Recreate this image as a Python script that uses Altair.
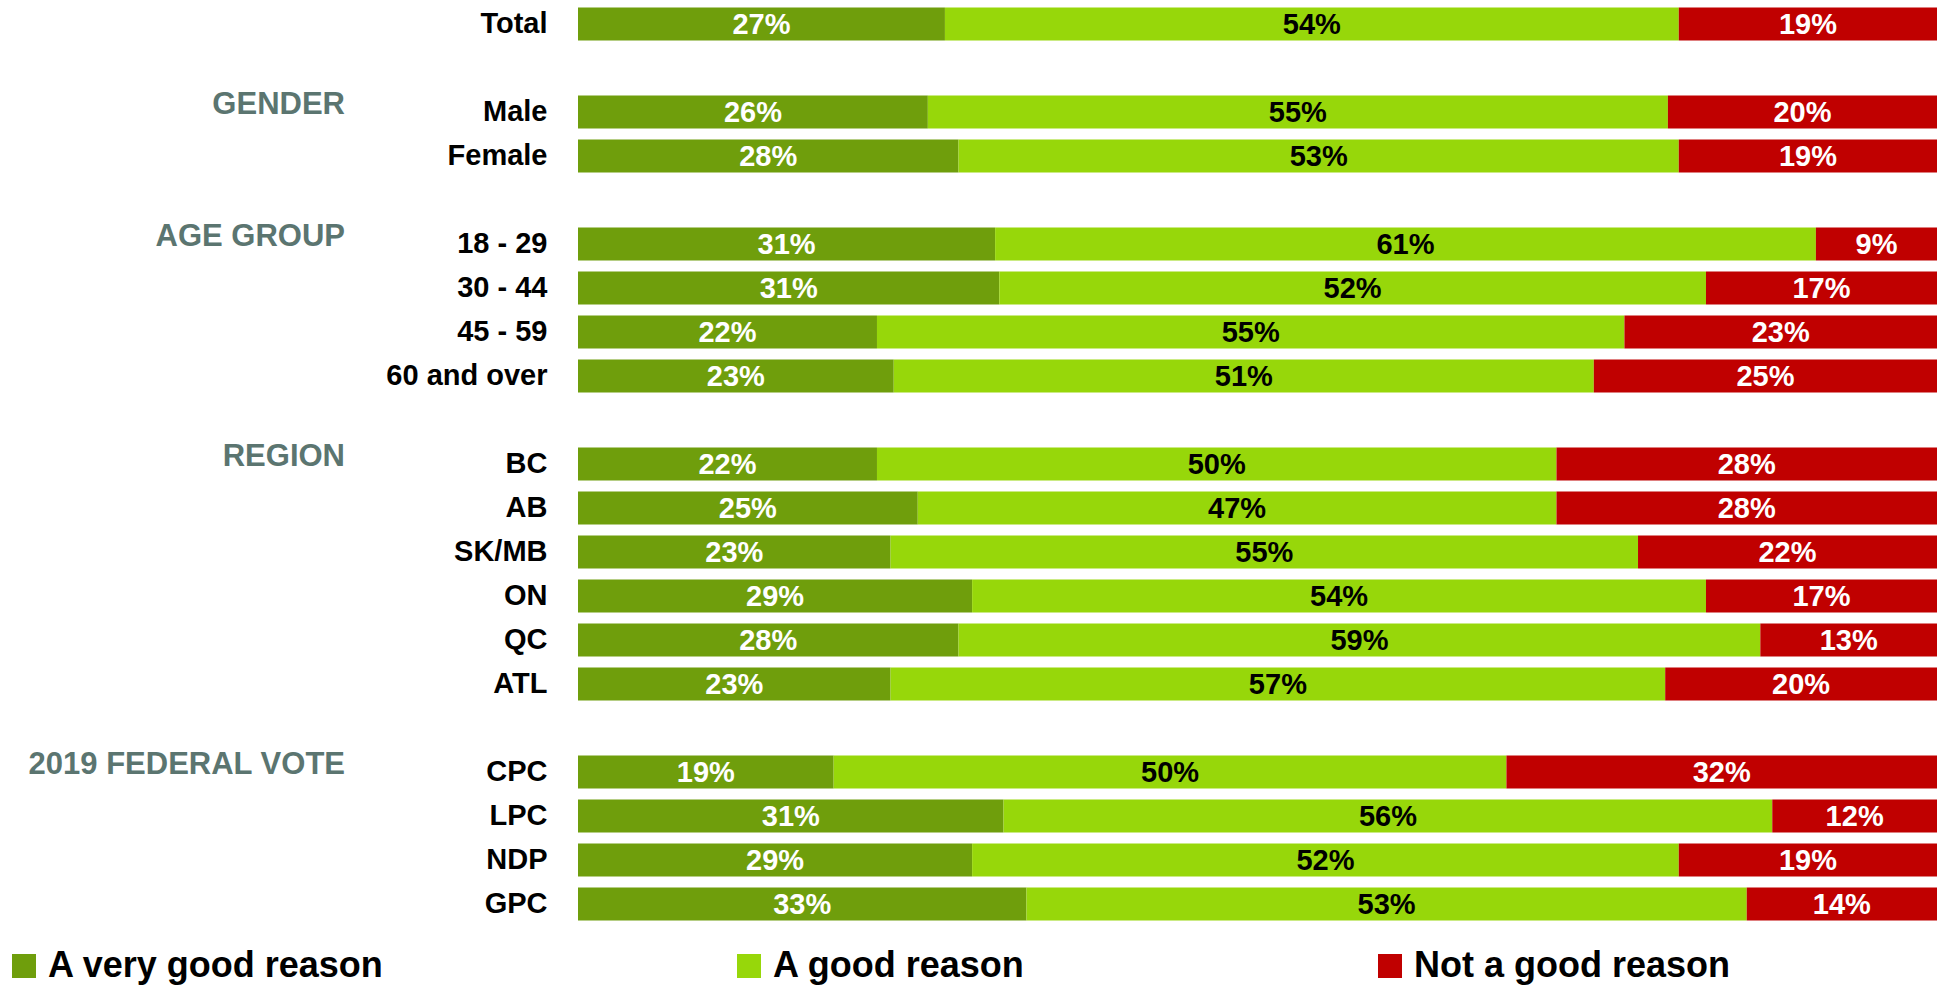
import altair as alt
import pandas as pd

rows = ["Total", "Male", "Female", "18 - 29", "30 - 44", "45 - 59", "60 and over",
        "BC", "AB", "SK/MB", "ON", "QC", "ATL", "CPC", "LPC", "NDP", "GPC"]
very_good = [27, 26, 28, 31, 31, 22, 23, 22, 25, 23, 29, 28, 23, 19, 31, 29, 33]
good = [54, 55, 53, 61, 52, 55, 51, 50, 47, 55, 54, 59, 57, 50, 56, 52, 53]
not_good = [19, 20, 19, 9, 17, 23, 25, 28, 28, 22, 17, 13, 20, 32, 12, 19, 14]

series = ["A very good reason", "A good reason", "Not a good reason"]
colors = ["#6f9e0c", "#97d70a", "#c00000"]

groups = ["GENDER", "AGE GROUP", "REGION", "2019 FEDERAL VOTE"]
group_first_row = ["Male", "18 - 29", "BC", "CPC"]

y_order = ["Total", "gap1", "Male", "Female", "gap2", "18 - 29", "30 - 44", "45 - 59",
           "60 and over", "gap3", "BC", "AB", "SK/MB", "ON", "QC", "ATL", "gap4",
           "CPC", "LPC", "NDP", "GPC"]

FONT = "Liberation Sans"

records = []
for i, r in enumerate(rows):
    for k, vals in enumerate([very_good, good, not_good]):
        records.append({"row": r, "series": series[k], "order": k, "value": vals[i]})
df = pd.DataFrame(records)
hdf = pd.DataFrame({"heading": groups, "row": group_first_row})

yscale = alt.Scale(domain=y_order, paddingInner=0.25, paddingOuter=0.125)
yaxis = alt.Axis(
    title=None, ticks=False, domain=False, labelPadding=31,
    labelFont=FONT, labelFontSize=29, labelFontWeight="bold", labelColor="black",
    labelExpr="indexof(datum.value, 'gap') == 0 ? '' : datum.value",
)
xscale = alt.Scale(domain=[0, 1], nice=False, zero=True)

base = alt.Chart(df)

bars = base.mark_bar(strokeWidth=0).encode(
    y=alt.Y("row:N", scale=yscale, axis=yaxis, sort=y_order),
    x=alt.X("value:Q", stack="normalize", scale=xscale, axis=None),
    order=alt.Order("order:Q"),
    color=alt.Color(
        "series:N",
        scale=alt.Scale(domain=series, range=colors),
        legend=alt.Legend(
            title=None, orient="none", direction="horizontal",
            legendX=-572, legendY=946, padding=0,
            symbolType="square", symbolSize=576, symbolStrokeWidth=0, symbolOpacity=1,
            labelFont=FONT, labelFontSize=36, labelFontWeight="bold", labelColor="black",
            labelOffset=6, columnPadding=346, labelLimit=600,
        ),
    ),
)

labels = base.transform_joinaggregate(
    total="sum(value)", groupby=["row"]
).transform_window(
    cum="sum(value)", sort=[alt.SortField("order")], groupby=["row"], frame=[None, 0]
).transform_calculate(
    mid="(datum.cum - datum.value / 2) / datum.total",
    label="datum.value + '%'",
).mark_text(
    font=FONT, fontSize=29, fontWeight="bold", align="center", baseline="middle", dy=1
).encode(
    y=alt.Y("row:N", scale=yscale, sort=y_order),
    x=alt.X("mid:Q", scale=xscale),
    text="label:N",
    color=alt.condition("datum.order == 1", alt.value("black"), alt.value("white")),
)

heads = alt.Chart(hdf).mark_text(
    font=FONT, fontSize=31, fontWeight="bold", align="right", baseline="middle",
    color="#5b7570", dy=-7,
).encode(
    y=alt.Y("row:N", scale=yscale, sort=y_order),
    x=alt.value(-233),
    text="heading:N",
)

chart = alt.layer(bars, labels, heads).properties(
    width=1359, height=924,
    autosize=alt.AutoSizeParams(type="none"),
    padding={"left": 578, "top": 2, "right": 6, "bottom": 62},
    background="white",
).configure_view(stroke=None)

chart.save("out.html", embed_options={"renderer": "svg", "actions": False})
